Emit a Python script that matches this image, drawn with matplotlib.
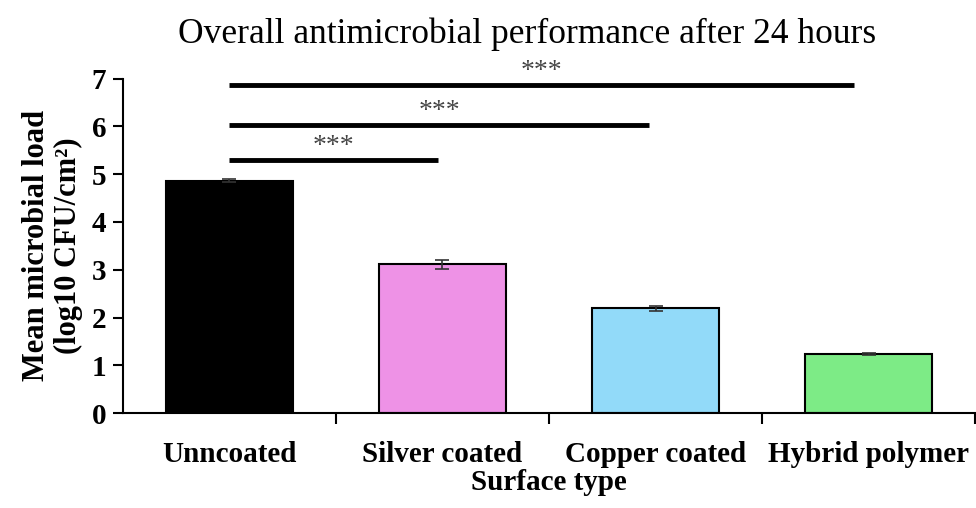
import matplotlib
matplotlib.use("Agg")
import matplotlib.pyplot as plt
import numpy as np

categories = ["Unncoated", "Silver coated", "Copper coated", "Hybrid polymer"]
means = [4.86, 3.11, 2.19, 1.24]
errors = [0.03, 0.09, 0.05, 0.02]
colors = ["#000000", "#EE92E6", "#92DAF9", "#7DEB86"]
# significance comparisons: (start, end, y, label)
sig_starts = [0, 0, 0]
sig_ends = [0.98, 1.97, 2.93]
sig_levels = [5.30, 6.04, 6.86]
sig_labels = ["***", "***", "***"]

plt.rcParams['font.family'] = ['Liberation Serif', 'DejaVu Serif']

fig = plt.figure(figsize=(9.76, 5.08), dpi=100)
ax = fig.add_axes([0.126, 0.187, 0.873, 0.658])

x = np.arange(len(categories))
ax.bar(x, means, width=0.6, color=colors, edgecolor="black", linewidth=1.5, zorder=2)
ax.errorbar(x, means, yerr=errors, fmt="none", ecolor="#333333", elinewidth=1.2,
            capsize=5, capthick=1.2, zorder=3)

for s, e, lvl, lab in zip(sig_starts, sig_ends, sig_levels, sig_labels):
    ax.plot([s, e], [lvl, lvl], color="black", linewidth=3.5, solid_capstyle="butt",
            clip_on=False, zorder=4)
    ax.text((s + e) / 2, lvl + 0.02, lab, ha="center", va="bottom", fontsize=20,
            color="#444444", clip_on=False)

ax.set_xlim(-0.5, 3.5)
ax.set_ylim(0, 7)
ax.set_yticks(range(0, 8))
ax.set_xticks(x)
ax.set_xticklabels(categories)
ax.set_xticks(np.arange(0.5, 4.0, 1.0), minor=True)
ax.tick_params(axis="x", which="major", length=0, pad=20, labelsize=21)
ax.tick_params(axis="x", which="minor", length=8, width=1.5, direction="out")
ax.tick_params(axis="y", length=7, width=1.5, direction="out", labelsize=21, pad=5)
for lbl in ax.get_xticklabels() + ax.get_yticklabels():
    lbl.set_fontweight("bold")

for side in ["top", "right"]:
    ax.spines[side].set_visible(False)
for side in ["left", "bottom"]:
    ax.spines[side].set_linewidth(1.5)

ax.set_xlabel("Surface type", fontsize=21, fontweight="bold", labelpad=1)
ax.set_ylabel("Mean microbial load\n(log10 CFU/cm²)", fontsize=22,
              fontweight="bold", linespacing=1.15, labelpad=6)
fig.text(0.54, 0.932, "Overall antimicrobial performance after 24 hours",
         ha="center", va="center", fontsize=25.5)

fig.savefig("out.png", dpi=100)
